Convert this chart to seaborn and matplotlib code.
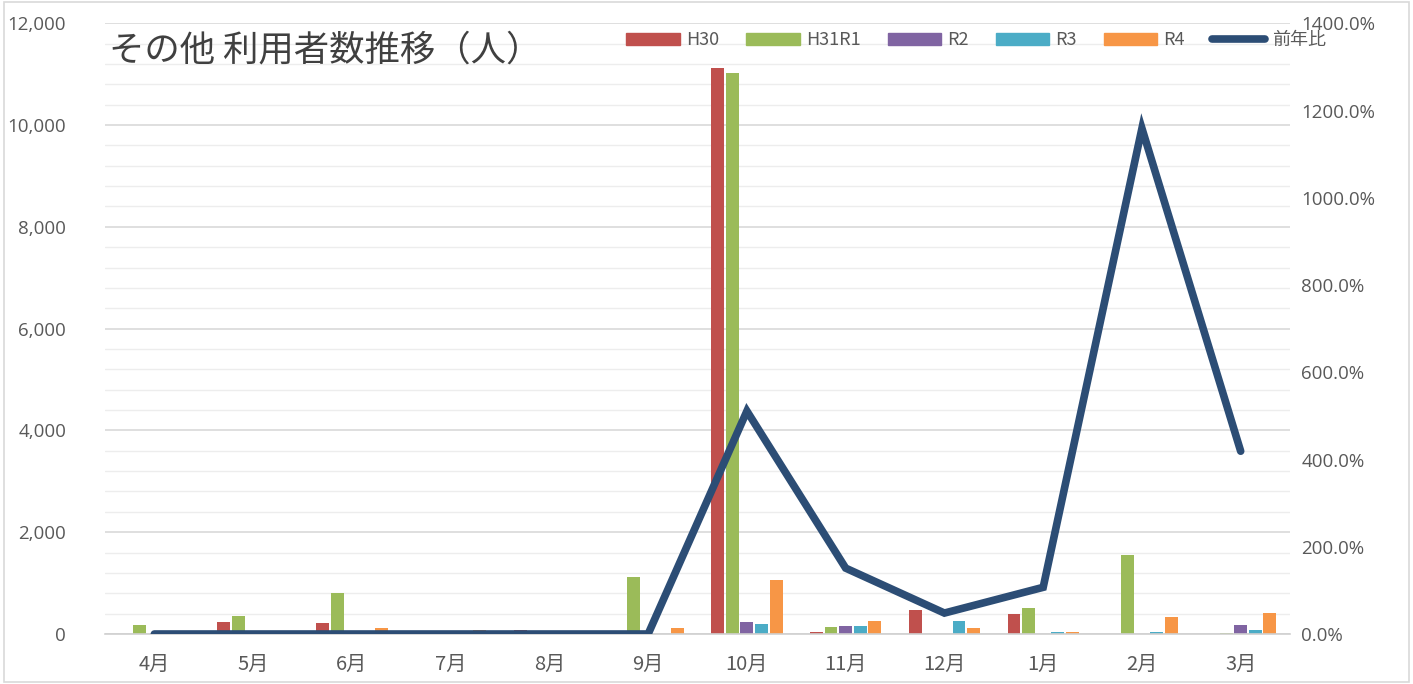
import numpy as np
import pandas as pd
import matplotlib.pyplot as plt
import matplotlib.ticker as mticker
from matplotlib.patches import Rectangle
import seaborn as sns

# ---- データ ----
months = ['4月', '5月', '6月', '7月', '8月', '9月', '10月', '11月', '12月', '1月', '2月', '3月']
h30   = [0, 230, 215, 0, 70, 0, 11120, 30, 470, 400, 0, 0]
h31r1 = [170, 350, 800, 0, 0, 1120, 11020, 140, 0, 510, 1550, 20]
r2    = [0, 0, 0, 0, 0, 0, 240, 150, 0, 0, 0, 170]
r3    = [0, 0, 0, 0, 0, 0, 200, 165, 250, 30, 30, 85]
r4    = [0, 0, 110, 80, 0, 120, 1060, 255, 115, 30, 340, 405]
ratio = [0, 0, 0, 0, 0, 0, 511, 151, 48, 107, 1159, 419]   # 前年比 (%)

series_names = ['H30', 'H31R1', 'R2', 'R3', 'R4']
colors = ['#C0504D', '#9BBB59', '#8064A2', '#4BACC6', '#F79646']
line_color = '#2C4D75'

df = pd.DataFrame({'月': months, 'H30': h30, 'H31R1': h31r1, 'R2': r2, 'R3': r3, 'R4': r4})
df_long = df.melt(id_vars='月', var_name='年度', value_name='人数')

sns.set_style('white')
plt.rcParams['font.family'] = ['Noto Sans CJK JP', 'DejaVu Sans']

fig = plt.figure(figsize=(14.13, 6.84), dpi=100)
ax = fig.add_axes([0.0743, 0.0731, 0.8387, 0.8929])

sns.barplot(data=df_long, x='月', y='人数', hue='年度', order=months,
            hue_order=series_names, palette=colors, width=0.74, gap=0.12,
            saturation=1, linewidth=0, ax=ax, legend=False)

ax.set_ylim(0, 12000)
ax.yaxis.set_major_locator(mticker.MultipleLocator(2000))
ax.yaxis.set_minor_locator(mticker.MultipleLocator(400))
ax.yaxis.set_major_formatter(mticker.StrMethodFormatter('{x:,.0f}'))
ax.grid(axis='y', which='major', color='#D9D9D9', lw=1.2)
ax.grid(axis='y', which='minor', color='#EDEDED', lw=1.0)
ax.set_axisbelow(True)
ax.set_xlabel('')
ax.set_ylabel('')
for s in ['top', 'right', 'left']:
    ax.spines[s].set_visible(False)
ax.spines['bottom'].set_color('#D0D0D0')
ax.spines['bottom'].set_linewidth(1.2)
ax.set_xlim(-0.5, len(months) - 0.5)
ax.set_xticks(np.arange(-0.5, len(months), 1.0), minor=True)
ax.tick_params(axis='x', which='major', length=0, pad=14, labelsize=14.5, labelcolor='#595959')
ax.tick_params(axis='x', which='minor', length=7, color='#D0D0D0', width=1.2)
ax.tick_params(axis='y', which='both', length=0, pad=28, labelsize=13.5, labelcolor='#595959')
for lab in ax.get_yticklabels():
    lab.set_fontfamily(['Open Sans', 'DejaVu Sans'])

# 前年比 (右軸)
ax2 = ax.twinx()
sns.lineplot(x=np.arange(len(months)), y=ratio, color=line_color, lw=5.5,
             solid_capstyle='round', solid_joinstyle='miter', ax=ax2)
ax2.set_ylim(0, 1400)
ax2.yaxis.set_major_locator(mticker.MultipleLocator(200))
ax2.yaxis.set_major_formatter(mticker.StrMethodFormatter('{x:.1f}%'))
ax2.tick_params(axis='y', length=0, pad=8, labelsize=13.5, labelcolor='#595959')
for lab in ax2.get_yticklabels():
    lab.set_fontfamily(['Open Sans', 'DejaVu Sans'])
for s in ax2.spines.values():
    s.set_visible(False)
ax2.grid(False)

# タイトル
ax.text(0.003, 0.955, 'その他 利用者数推移（人）', transform=ax.transAxes,
        fontsize=25.5, color='#404040', ha='left', va='center')

# 凡例
handles = [Rectangle((0, 0), 1, 1, color=c) for c in colors]
handles.append(plt.Line2D([0], [0], color=line_color, lw=5.5, solid_capstyle='round'))
leg = ax2.legend(handles, series_names + ['前年比'], loc='center right',
                 bbox_to_anchor=(1.03, 0.972), ncol=6, frameon=False, fontsize=13,
                 handlelength=2.95, handleheight=0.7, handletextpad=0.35,
                 columnspacing=1.5, borderpad=0, borderaxespad=0)
for t in leg.get_texts():
    t.set_color('#595959')

# チャート枠
fig.add_artist(Rectangle((0.003, 0.003), 0.994, 0.994, transform=fig.transFigure,
                         fill=False, edgecolor='#D9D9D9', lw=1.2))

fig.savefig('out.png', dpi=100)
